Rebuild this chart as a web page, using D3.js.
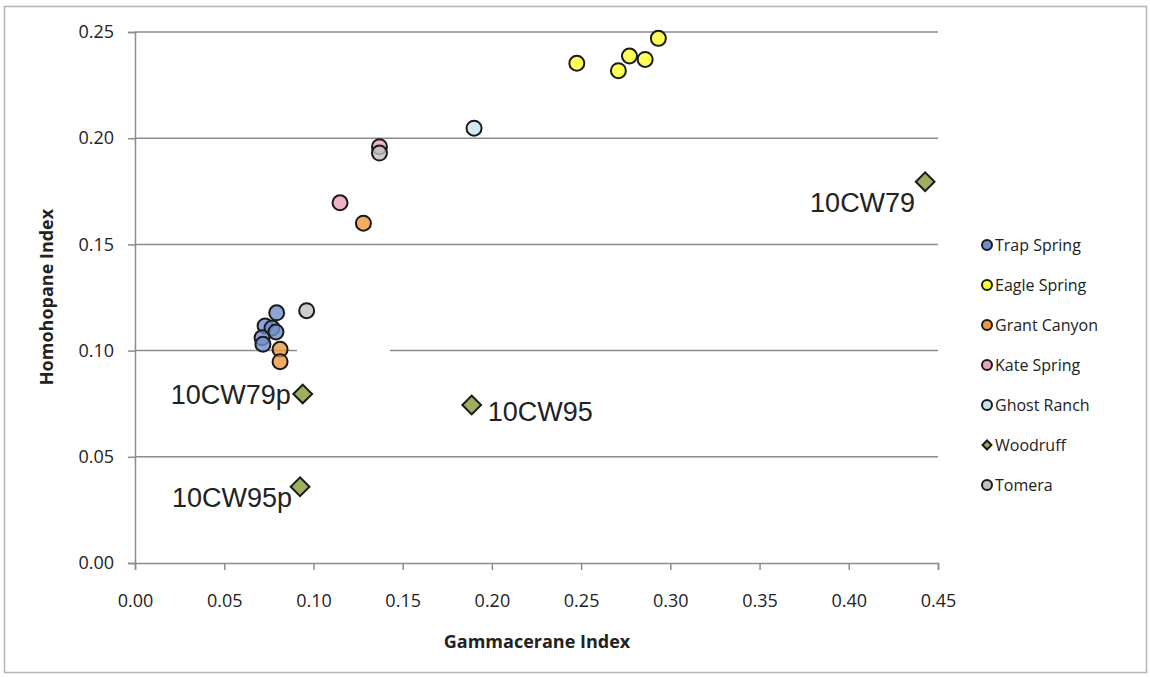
<!DOCTYPE html>
<html>
<head>
<meta charset="utf-8">
<script src="https://cdn.jsdelivr.net/npm/d3@7"></script>
<style>
  html, body { margin: 0; padding: 0; background: #fff; }
  svg { display: block; }
  text { font-family: "Open Sans", "Noto Sans", sans-serif; fill: #222; }
</style>
</head>
<body>
<svg id="chart" width="1150" height="677"></svg>
<script>
// Biomarker ratios by locality: gammacerane index (x) vs homohopane index (y)
const seriesNames = ["Trap Spring", "Eagle Spring", "Grant Canyon", "Kate Spring", "Ghost Ranch", "Woodruff", "Tomera"];
const seriesColors = ["#6f8fca", "#ffff2e", "#ec9a3e", "#eba3b8", "#c7e3f0", "#9fae5e", "#c0c0c0"];

const trapSpringX = [0.0794, 0.0729, 0.0768, 0.0790, 0.0712, 0.0717];
const trapSpringY = [0.1178, 0.1116, 0.1106, 0.1088, 0.1060, 0.1030];

const eagleSpringX = [0.2476, 0.2709, 0.2771, 0.2859, 0.2933];
const eagleSpringY = [0.2353, 0.2318, 0.2387, 0.2371, 0.2470];

const grantCanyonX = [0.1280, 0.0813, 0.0813];
const grantCanyonY = [0.1600, 0.1006, 0.0948];

const kateSpringX = [0.1149, 0.1370];
const kateSpringY = [0.1696, 0.1960];

const ghostRanchX = [0.1900];
const ghostRanchY = [0.2047];

const woodruffX = [0.4428, 0.0940, 0.1887, 0.0925];
const woodruffY = [0.1795, 0.0796, 0.0744, 0.0359];
const woodruffLabels = ["10CW79", "10CW79p", "10CW95", "10CW95p"];

const tomeraX = [0.0962, 0.1370];
const tomeraY = [0.1188, 0.1930];

const xTicks = [0, 0.05, 0.10, 0.15, 0.20, 0.25, 0.30, 0.35, 0.40, 0.45];
const yTicks = [0, 0.05, 0.10, 0.15, 0.20, 0.25];

const xTitle = "Gammacerane Index";
const yTitle = "Homohopane Index";

// ---- layout ----
const svg = d3.select("#chart");
const plot = { left: 135, right: 938, top: 32, bottom: 563 };

const x = d3.scaleLinear().domain([0, 0.45]).range([plot.left, plot.right]);
const y = d3.scaleLinear().domain([0, 0.25]).range([plot.bottom, plot.top]);

// outer frame
svg.append("rect")
  .attr("x", 4.5).attr("y", 6.5)
  .attr("width", 1142).attr("height", 666)
  .attr("fill", "#fff").attr("stroke", "#b5b5b5").attr("stroke-width", 1.5);

// horizontal gridlines
svg.append("g")
  .selectAll("line")
  .data(yTicks.filter(d => d > 0))
  .join("line")
  .attr("x1", plot.left).attr("x2", plot.right)
  .attr("y1", d => y(d)).attr("y2", d => y(d))
  .attr("stroke", "#8c8c8c").attr("stroke-width", 1.5);

// empty label box sitting on the 0.10 gridline
svg.append("rect")
  .attr("x", 297).attr("y", y(0.10) - 3)
  .attr("width", 93).attr("height", 6)
  .attr("fill", "#fff");

// y axis
const yAxis = svg.append("g")
  .attr("transform", `translate(${plot.left},0)`)
  .call(d3.axisLeft(y).tickValues(yTicks).tickFormat(d3.format(".2f")).tickSize(7).tickPadding(14));
yAxis.select(".domain").attr("stroke", "#8c8c8c").attr("stroke-width", 1.5);
yAxis.selectAll(".tick line").attr("stroke", "#8c8c8c").attr("stroke-width", 1.5);
yAxis.selectAll(".tick text").style("font-size", "18px").attr("fill", "#222");

// x axis
const xAxis = svg.append("g")
  .attr("transform", `translate(0,${plot.bottom})`)
  .call(d3.axisBottom(x).tickValues(xTicks).tickFormat(d3.format(".2f")).tickSize(7).tickPadding(24));
xAxis.select(".domain").attr("stroke", "#8c8c8c").attr("stroke-width", 1.5);
xAxis.selectAll(".tick line").attr("stroke", "#8c8c8c").attr("stroke-width", 1.5);
xAxis.selectAll(".tick text").style("font-size", "18px").attr("fill", "#222");

// axis titles
svg.append("text")
  .attr("x", 537).attr("y", 648)
  .attr("text-anchor", "middle")
  .style("font-size", "18px").style("font-weight", "bold")
  .text(xTitle);

svg.append("text")
  .attr("transform", "translate(53,297) rotate(-90)")
  .attr("text-anchor", "middle")
  .style("font-size", "18px").style("font-weight", "bold")
  .text(yTitle);

// ---- markers ----
const circleSeries = [
  { name: "Trap Spring", xs: trapSpringX, ys: trapSpringY },
  { name: "Eagle Spring", xs: eagleSpringX, ys: eagleSpringY },
  { name: "Grant Canyon", xs: grantCanyonX, ys: grantCanyonY },
  { name: "Kate Spring", xs: kateSpringX, ys: kateSpringY },
  { name: "Ghost Ranch", xs: ghostRanchX, ys: ghostRanchY },
  { name: "Tomera", xs: tomeraX, ys: tomeraY }
];
const color = d3.scaleOrdinal().domain(seriesNames).range(seriesColors);

const marks = svg.append("g");
circleSeries.forEach(s => {
  marks.append("g")
    .selectAll("circle")
    .data(s.xs.map((v, i) => [v, s.ys[i]]))
    .join("circle")
    .attr("cx", d => x(d[0])).attr("cy", d => y(d[1]))
    .attr("r", 7.5)
    .attr("fill", color(s.name)).attr("fill-opacity", 0.8)
    .attr("stroke", "#1a1a1a").attr("stroke-width", 2);
});

const diamond = d3.symbol().type(d3.symbolSquare).size(175);
const woodruff = woodruffX.map((v, i) => ({ x: v, y: woodruffY[i], label: woodruffLabels[i] }));
marks.append("g")
  .selectAll("path")
  .data(woodruff)
  .join("path")
  .attr("d", diamond)
  .attr("transform", d => `translate(${x(d.x)},${y(d.y)}) rotate(45)`)
  .attr("fill", color("Woodruff"))
  .attr("stroke", "#1a1a1a").attr("stroke-width", 2);

// sample labels for Woodruff points
const labelPos = {
  "10CW79":  { dx: -10, dy: 30, anchor: "end" },
  "10CW79p": { dx: -12, dy: 10, anchor: "end" },
  "10CW95":  { dx: 16,  dy: 16, anchor: "start" },
  "10CW95p": { dx: -8,  dy: 20, anchor: "end" }
};
svg.append("g")
  .selectAll("text")
  .data(woodruff)
  .join("text")
  .attr("x", d => x(d.x) + labelPos[d.label].dx)
  .attr("y", d => y(d.y) + labelPos[d.label].dy)
  .attr("text-anchor", d => labelPos[d.label].anchor)
  .style("font-family", "'Liberation Sans', Arial, sans-serif")
  .style("font-size", "27px")
  .attr("fill", "#000")
  .text(d => d.label);

// ---- legend ----
const legend = svg.append("g").attr("transform", "translate(987,245)");
const rows = legend.selectAll("g")
  .data(seriesNames)
  .join("g")
  .attr("transform", (d, i) => `translate(0,${i * 40})`);

rows.each(function (d) {
  const g = d3.select(this);
  if (d === "Woodruff") {
    g.append("path")
      .attr("d", d3.symbol().type(d3.symbolSquare).size(40))
      .attr("transform", "rotate(45)")
      .attr("fill", color(d)).attr("stroke", "#1a1a1a").attr("stroke-width", 2);
  } else {
    g.append("circle")
      .attr("r", 5)
      .attr("fill", color(d)).attr("stroke", "#1a1a1a").attr("stroke-width", 2);
  }
});
rows.append("text")
  .attr("x", 8).attr("y", 6)
  .style("font-size", "16px")
  .text(d => d);
</script>
</body>
</html>
